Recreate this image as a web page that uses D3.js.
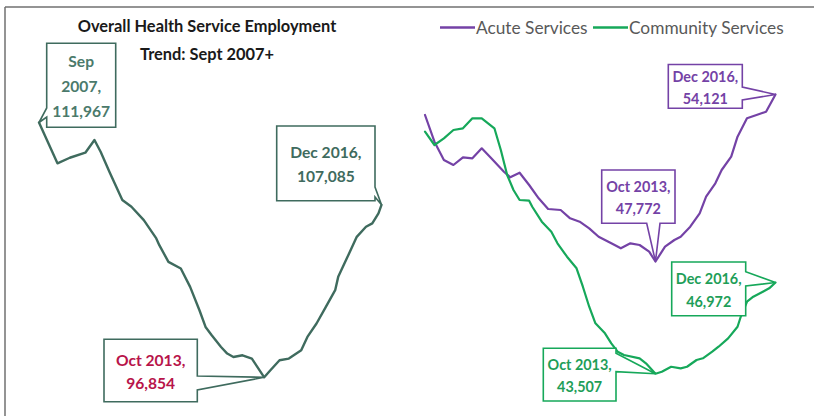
<!DOCTYPE html>
<html>
<head>
<meta charset="utf-8">
<script src="https://cdn.jsdelivr.net/npm/d3@7"></script>
<style>
  body { margin: 0; background: #fff; }
  svg { display: block; }
  text { font-family: Lato, "Open Sans", sans-serif; }
</style>
</head>
<body>
<svg id="chart" width="814" height="416"></svg>
<script>
// Overall health service employment (headcount), by month
const totalMonths = ["2007-09","2008-03","2008-07","2008-12","2009-03","2009-05","2009-08","2009-12","2010-03","2010-07","2010-11","2010-12","2011-03","2011-07","2011-10","2012-01","2012-03","2012-05","2012-08","2012-10","2012-12","2013-03","2013-06","2013-10","2013-12","2014-03","2014-06","2014-10","2014-12","2015-03","2015-06","2015-09","2015-10","2016-01","2016-04","2016-07","2016-09","2016-11","2016-12"];
const totalValues = [111967,109544,109877,110174,110928,110233,108968,107365,106967,106177,105091,104693,103701,103309,102217,100833,99842,99349,98654,98262,98060,98161,97965,96854,97270,97864,97965,98458,99248,100043,101029,102021,102811,103998,105186,105780,105981,106575,107085];

// Acute services
const acuteMonths = ["2007-09","2007-12","2008-03","2008-06","2008-09","2008-12","2009-03","2009-06","2009-10","2009-12","2010-03","2010-06","2010-09","2010-12","2011-04","2011-07","2011-10","2012-01","2012-04","2012-08","2012-11","2013-02","2013-05","2013-08","2013-10","2014-01","2014-04","2014-06","2014-09","2014-12","2015-02","2015-05","2015-07","2015-10","2015-12","2016-03","2016-06","2016-09","2016-12"];
const acuteValues = [53342,52327,51631,51441,51734,51696,52076,51696,51186,50973,51148,50681,50175,49768,49730,49414,49285,49034,48715,48464,48274,48464,48399,48145,47772,48335,48589,48715,49095,49605,50236,50745,51251,51757,52517,53216,53342,53467,54121];

// Community services
const communityMonths = ["2007-09","2007-12","2008-03","2008-06","2008-09","2008-12","2009-03","2009-05","2009-07","2009-09","2009-11","2010-01","2010-03","2010-06","2010-07","2010-10","2011-01","2011-03","2011-06","2011-09","2011-11","2012-01","2012-03","2012-06","2012-08","2012-10","2012-12","2013-05","2013-07","2013-10","2013-12","2014-03","2014-06","2014-08","2014-11","2015-01","2015-04","2015-06","2015-09","2015-12","2016-01","2016-03","2016-05","2016-08","2016-10","2016-12"];
const communityValues = [52707,52201,52456,52772,52836,53216,53216,53026,52836,52011,51061,50490,50110,50083,49855,49285,48900,48464,47954,47513,46814,46053,45422,45042,44662,44343,44217,44092,43902,43507,43582,43772,43711,43772,44027,44092,44343,44533,44852,45293,45673,46244,46434,46624,46753,46972];

const titleLines = ["Overall Health Service Employment", "Trend: Sept 2007+"];
const seriesNames = ["Acute Services", "Community Services"];

const parseMonth = d3.timeParse("%Y-%m");
const fmt = d3.format(",");
const fmtMonth = d3.timeFormat("%b %Y");

const svg = d3.select("#chart");

const COL = {
  total: "#3f6b5e",
  totalText: "#4b7a6b",
  low: "#b8144a",
  acute: "#7442a6",
  community: "#16a85a",
  communityText: "#1e9e58",
  frame: "#707070",
  legendText: "#595959"
};

// frame
svg.append("line").attr("x1", 5).attr("x2", 814).attr("y1", 7).attr("y2", 7)
  .attr("stroke", COL.frame).attr("stroke-width", 1.5);
svg.append("line").attr("x1", 5).attr("x2", 5).attr("y1", 7).attr("y2", 416)
  .attr("stroke", COL.frame).attr("stroke-width", 1.5);

// scales
const timeDomain = [parseMonth("2007-09"), parseMonth("2016-12")];
const xL = d3.scaleTime().domain(timeDomain).range([39, 381.5]);
const yL = d3.scaleLinear().domain([96854, 111967]).range([377.3, 122.5]);
const xR = d3.scaleTime().domain(timeDomain).range([425, 775.5]);
const yR = d3.scaleLinear().domain([43507, 54121]).range([373.7, 94.5]);

const toPoints = (months, values) => months.map((m, i) => ({ date: parseMonth(m), value: values[i] }));
const total = toPoints(totalMonths, totalValues);
const acute = toPoints(acuteMonths, acuteValues);
const community = toPoints(communityMonths, communityValues);

function drawLine(data, x, y, color, width) {
  svg.append("path").datum(data)
    .attr("fill", "none").attr("stroke", color).attr("stroke-width", width)
    .attr("stroke-linejoin", "round").attr("stroke-linecap", "round")
    .attr("d", d3.line().x(d => x(d.date)).y(d => y(d.value)));
}
drawLine(total, xL, yL, COL.total, 2.4);
drawLine(acute, xR, yR, COL.acute, 2.2);
drawLine(community, xR, yR, COL.community, 2.2);

// titles
svg.append("text").attr("x", 207).attr("y", 32).attr("text-anchor", "middle")
  .attr("font-weight", 700).attr("font-size", 16.4).attr("fill", "#1a1a1a").text(titleLines[0]);
svg.append("text").attr("x", 207).attr("y", 60).attr("text-anchor", "middle")
  .attr("font-weight", 700).attr("font-size", 16.4).attr("fill", "#1a1a1a").text(titleLines[1]);

// legend
const legend = [
  { name: seriesNames[0], color: COL.acute, x: 440 },
  { name: seriesNames[1], color: COL.community, x: 593 }
];
legend.forEach(l => {
  svg.append("line").attr("x1", l.x).attr("x2", l.x + 35).attr("y1", 27.5).attr("y2", 27.5)
    .attr("stroke", l.color).attr("stroke-width", 2.4);
  svg.append("text").attr("x", l.x + 36).attr("y", 34).attr("font-size", 17.3)
    .attr("fill", COL.legendText).text(l.name);
});

// callouts: box, the side carrying the pointer and the pointer's base along that side
function calloutPath(b, side, p0, p1, tip) {
  const x0 = b.x, y0 = b.y, x1 = b.x + b.w, y1 = b.y + b.h;
  const p = d3.path();
  p.moveTo(x0, y0);
  p.lineTo(x1, y0);
  if (side === "right") { p.lineTo(x1, p0); p.lineTo(tip[0], tip[1]); p.lineTo(x1, p1); }
  p.lineTo(x1, y1);
  if (side === "bottom") { p.lineTo(p1, y1); p.lineTo(tip[0], tip[1]); p.lineTo(p0, y1); }
  p.lineTo(x0, y1);
  if (side === "left") { p.lineTo(x0, p1); p.lineTo(tip[0], tip[1]); p.lineTo(x0, p0); }
  p.closePath();
  return p.toString();
}

const callouts = [
  { data: total, x: xL, y: yL, month: "2007-09", lines: m => ["Sep", "2007,"], box: { x: 46.7, y: 43.3, w: 69, h: 84 },
    side: "left", p0: 108, p1: 117, stroke: COL.total, color: COL.totalText, size: 15.6, gap: 25 },
  { data: total, x: xL, y: yL, month: "2016-12", lines: m => [m + ","], box: { x: 276.7, y: 126, w: 98.3, h: 74.7 },
    side: "right", p0: 187, p1: 197, stroke: COL.total, color: COL.total, size: 15.6, gap: 24 },
  { data: total, x: xL, y: yL, month: "2013-10", lines: m => [m + ","], box: { x: 104, y: 339.3, w: 93.3, h: 62.4 },
    side: "right", p0: 376, p1: 390, stroke: COL.total, color: COL.low, size: 15.6, gap: 23.5 },
  { data: acute, x: xR, y: yR, month: "2016-12", lines: m => [m + ","], box: { x: 668.3, y: 64.5, w: 74, h: 43.8 },
    side: "right", p0: 87, p1: 100, stroke: COL.acute, color: COL.acute, size: 14.4, gap: 22 },
  { data: acute, x: xR, y: yR, month: "2013-10", lines: m => [m + ","], box: { x: 601.7, y: 170, w: 73.3, h: 53.3 },
    side: "bottom", p0: 646.7, p1: 660, stroke: COL.acute, color: COL.acute, size: 14.4, gap: 22 },
  { data: community, x: xR, y: yR, month: "2016-12", lines: m => [m + ","], box: { x: 671.7, y: 262, w: 74, h: 53.7 },
    side: "right", p0: 271.7, p1: 286, stroke: COL.community, color: COL.communityText, size: 14.4, gap: 22.5 },
  { data: community, x: xR, y: yR, month: "2013-10", lines: m => [m + ","], box: { x: 543.3, y: 348.3, w: 72.7, h: 52.7 },
    side: "right", p0: 353.3, p1: 371.7, stroke: COL.community, color: COL.communityText, size: 14.4, gap: 22.5 }
];

callouts.forEach(c => {
  const target = parseMonth(c.month);
  const d = c.data.find(p => +p.date === +target);
  const tip = [c.x(d.date), c.y(d.value)];
  svg.append("path").attr("d", calloutPath(c.box, c.side, c.p0, c.p1, tip))
    .attr("fill", "#fff").attr("stroke", c.stroke).attr("stroke-width", 1.6)
    .attr("stroke-linejoin", "miter");
  const textLines = c.lines(fmtMonth(d.date)).concat([fmt(d.value)]);
  const cx = c.box.x + c.box.w / 2;
  const cy = c.box.y + c.box.h / 2 + 1.5;
  const n = textLines.length;
  textLines.forEach((t, i) => {
    svg.append("text").attr("x", cx).attr("y", cy + (i - (n - 1) / 2) * c.gap)
      .attr("dy", "0.35em").attr("text-anchor", "middle")
      .attr("font-weight", 700).attr("font-size", c.size).attr("fill", c.color).text(t);
  });
});
</script>
</body>
</html>
